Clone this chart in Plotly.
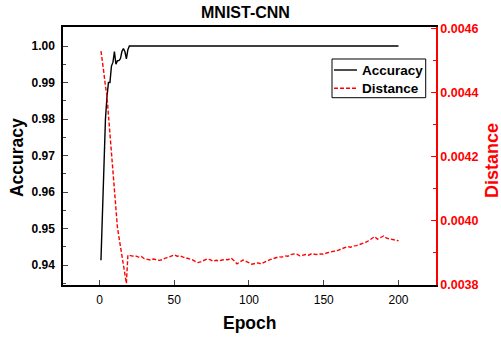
import plotly.graph_objects as go

acc_epochs = list(range(1, 21)) + [200]
accuracy = [0.9413, 0.9550, 0.9700, 0.9800, 0.9860, 0.9900, 0.9900, 0.9945, 0.9955, 0.9985,
            0.9950, 0.9960, 0.9960, 0.9965, 0.9985, 0.9993, 0.9985, 0.9965, 0.9990, 1.0000,
            1.0000]

dist_epochs_head = list(range(1, 20))
distance_head = [0.004530, 0.004500, 0.004460, 0.004420, 0.004390, 0.004330, 0.004270, 0.004210,
                 0.004140, 0.004080, 0.004020, 0.003980, 0.003950, 0.003920, 0.003880, 0.003850,
                 0.003820, 0.003805, 0.003893]
dist_epochs_tail = list(range(20, 201, 2))
distance_tail = [0.003893, 0.003890, 0.003891, 0.003887, 0.003889, 0.003882, 0.003880, 0.003878,
                 0.003881, 0.003879, 0.003877, 0.003879, 0.003884, 0.003886, 0.003891, 0.003894,
                 0.003890, 0.003891, 0.003887, 0.003885, 0.003882, 0.003879, 0.003874, 0.003870,
                 0.003873, 0.003877, 0.003881, 0.003879, 0.003874, 0.003877, 0.003875, 0.003878,
                 0.003880, 0.003879, 0.003884, 0.003876, 0.003866, 0.003872, 0.003878, 0.003874,
                 0.003870, 0.003865, 0.003867, 0.003869, 0.003866, 0.003871, 0.003874, 0.003879,
                 0.003882, 0.003885, 0.003888, 0.003887, 0.003891, 0.003890, 0.003895, 0.003897,
                 0.003896, 0.003891, 0.003893, 0.003895, 0.003893, 0.003898, 0.003896, 0.003895,
                 0.003897, 0.003896, 0.003900, 0.003902, 0.003904, 0.003906, 0.003909, 0.003913,
                 0.003916, 0.003920, 0.003918, 0.003922, 0.003923, 0.003926, 0.003930, 0.003933,
                 0.003938, 0.003945, 0.003951, 0.003943, 0.003948, 0.003953, 0.003946, 0.003944,
                 0.003943, 0.003940, 0.003938]

dist_epochs = dist_epochs_head + dist_epochs_tail
distance = distance_head + distance_tail

x_ticks = [0, 50, 100, 150, 200]
acc_ticks = [0.94, 0.95, 0.96, 0.97, 0.98, 0.99, 1.00]
dist_ticks = [0.0038, 0.0040, 0.0042, 0.0044, 0.0046]

FONT = "Liberation Sans, Arial, sans-serif"
RED = "#ff0000"
RED_DASH = "4px,2px"

def bold(v):
    return "<b>" + v + "</b>"

fig = go.Figure()
fig.add_trace(go.Scatter(x=acc_epochs, y=accuracy, mode="lines", name="Accuracy",
                         line=dict(color="black", width=1.4), showlegend=False))
fig.add_trace(go.Scatter(x=dist_epochs, y=distance, mode="lines", name="Distance",
                         yaxis="y2", line=dict(color=RED, width=1.4, dash=RED_DASH),
                         showlegend=False))

# legend box (paper coordinates relative to the plot area)
shapes = [
    dict(type="rect", xref="paper", yref="paper", x0=0.7212, x1=0.9724, y0=0.726, y1=0.876,
         line=dict(color="black", width=1), fillcolor="white", layer="above"),
    dict(type="line", xref="paper", yref="paper", x0=0.7265, x1=0.7882, y0=0.8333, y1=0.8333,
         line=dict(color="black", width=1.4), layer="above"),
    dict(type="line", xref="paper", yref="paper", x0=0.7265, x1=0.7882, y0=0.7624, y1=0.7624,
         line=dict(color=RED, width=1.4, dash=RED_DASH), layer="above"),
]
annotations = [
    dict(text=bold("Accuracy"), xref="paper", yref="paper", x=0.797, y=0.8333,
         xanchor="left", yanchor="middle", showarrow=False,
         font=dict(size=13.5, family=FONT, color="black")),
    dict(text=bold("Distance"), xref="paper", yref="paper", x=0.797, y=0.7624,
         xanchor="left", yanchor="middle", showarrow=False,
         font=dict(size=13.5, family=FONT, color="black")),
    dict(text=bold("Epoch"), xref="paper", yref="paper", x=0.5, y=-0.1473,
         xanchor="center", yanchor="middle", showarrow=False,
         font=dict(size=17.5, family=FONT, color="black")),
    dict(text=bold("Accuracy"), xref="paper", yref="paper", x=-0.1247, y=0.494,
         xanchor="center", yanchor="middle", showarrow=False, textangle=-90,
         font=dict(size=17.5, family=FONT, color="black")),
    dict(text=bold("Distance"), xref="paper", yref="paper", x=1.150, y=0.4845,
         xanchor="center", yanchor="middle", showarrow=False, textangle=-90,
         font=dict(size=18, family=FONT, color=RED)),
    dict(text=bold("MNIST-CNN"), xref="paper", yref="paper", x=(245 - 63) / 373,
         y=(285 - 12.5) / 258, xanchor="center", yanchor="middle", showarrow=False,
         font=dict(size=16, family=FONT, color="black")),
]

fig.update_layout(
    width=501, height=337,
    margin=dict(l=63, r=65, t=27, b=52, autoexpand=False),
    paper_bgcolor="white", plot_bgcolor="white",
    font=dict(family=FONT, color="black"),
    showlegend=False,
    shapes=shapes,
    annotations=annotations,
    xaxis=dict(range=[-24.4, 225.1], tickvals=x_ticks, ticktext=[str(v) for v in x_ticks],
               ticks="inside", ticklen=5, automargin=False, ticklabelstandoff=3,
               showline=True, linecolor="black", linewidth=1.5, mirror=True,
               showgrid=False, zeroline=False,
               tickfont=dict(size=12, family=FONT, color="black")),
    yaxis=dict(range=[0.93452, 1.00521], tickvals=acc_ticks,
               ticktext=[bold(f"{v:.2f}") for v in acc_ticks],
               ticks="inside", ticklen=5, showline=True, linecolor="black", linewidth=1.5,
               showgrid=False, zeroline=False, automargin=False, ticklabelstandoff=4,
               minor=dict(ticks="inside", ticklen=3, dtick=0.005, tick0=0.94, showgrid=False),
               tickfont=dict(size=12, family=FONT, color="black")),
    yaxis2=dict(range=[0.0038, 0.004605], tickvals=dist_ticks,
                ticktext=[bold(f"{v:.4f}") for v in dist_ticks],
                overlaying="y", side="right", anchor="x", automargin=False,
                ticks="inside", ticklen=5, showline=True, linecolor=RED, linewidth=1.5,
                tickcolor=RED, showgrid=False, zeroline=False,
                minor=dict(ticks="inside", ticklen=3, dtick=0.0001, tick0=0.0038,
                           tickcolor=RED, showgrid=False),
                tickfont=dict(size=12.5, family=FONT, color=RED)),
)

fig.write_html("out.html", config={"displayModeBar": False},
               post_script="document.body.style.margin='0';document.body.style.padding='0';")
